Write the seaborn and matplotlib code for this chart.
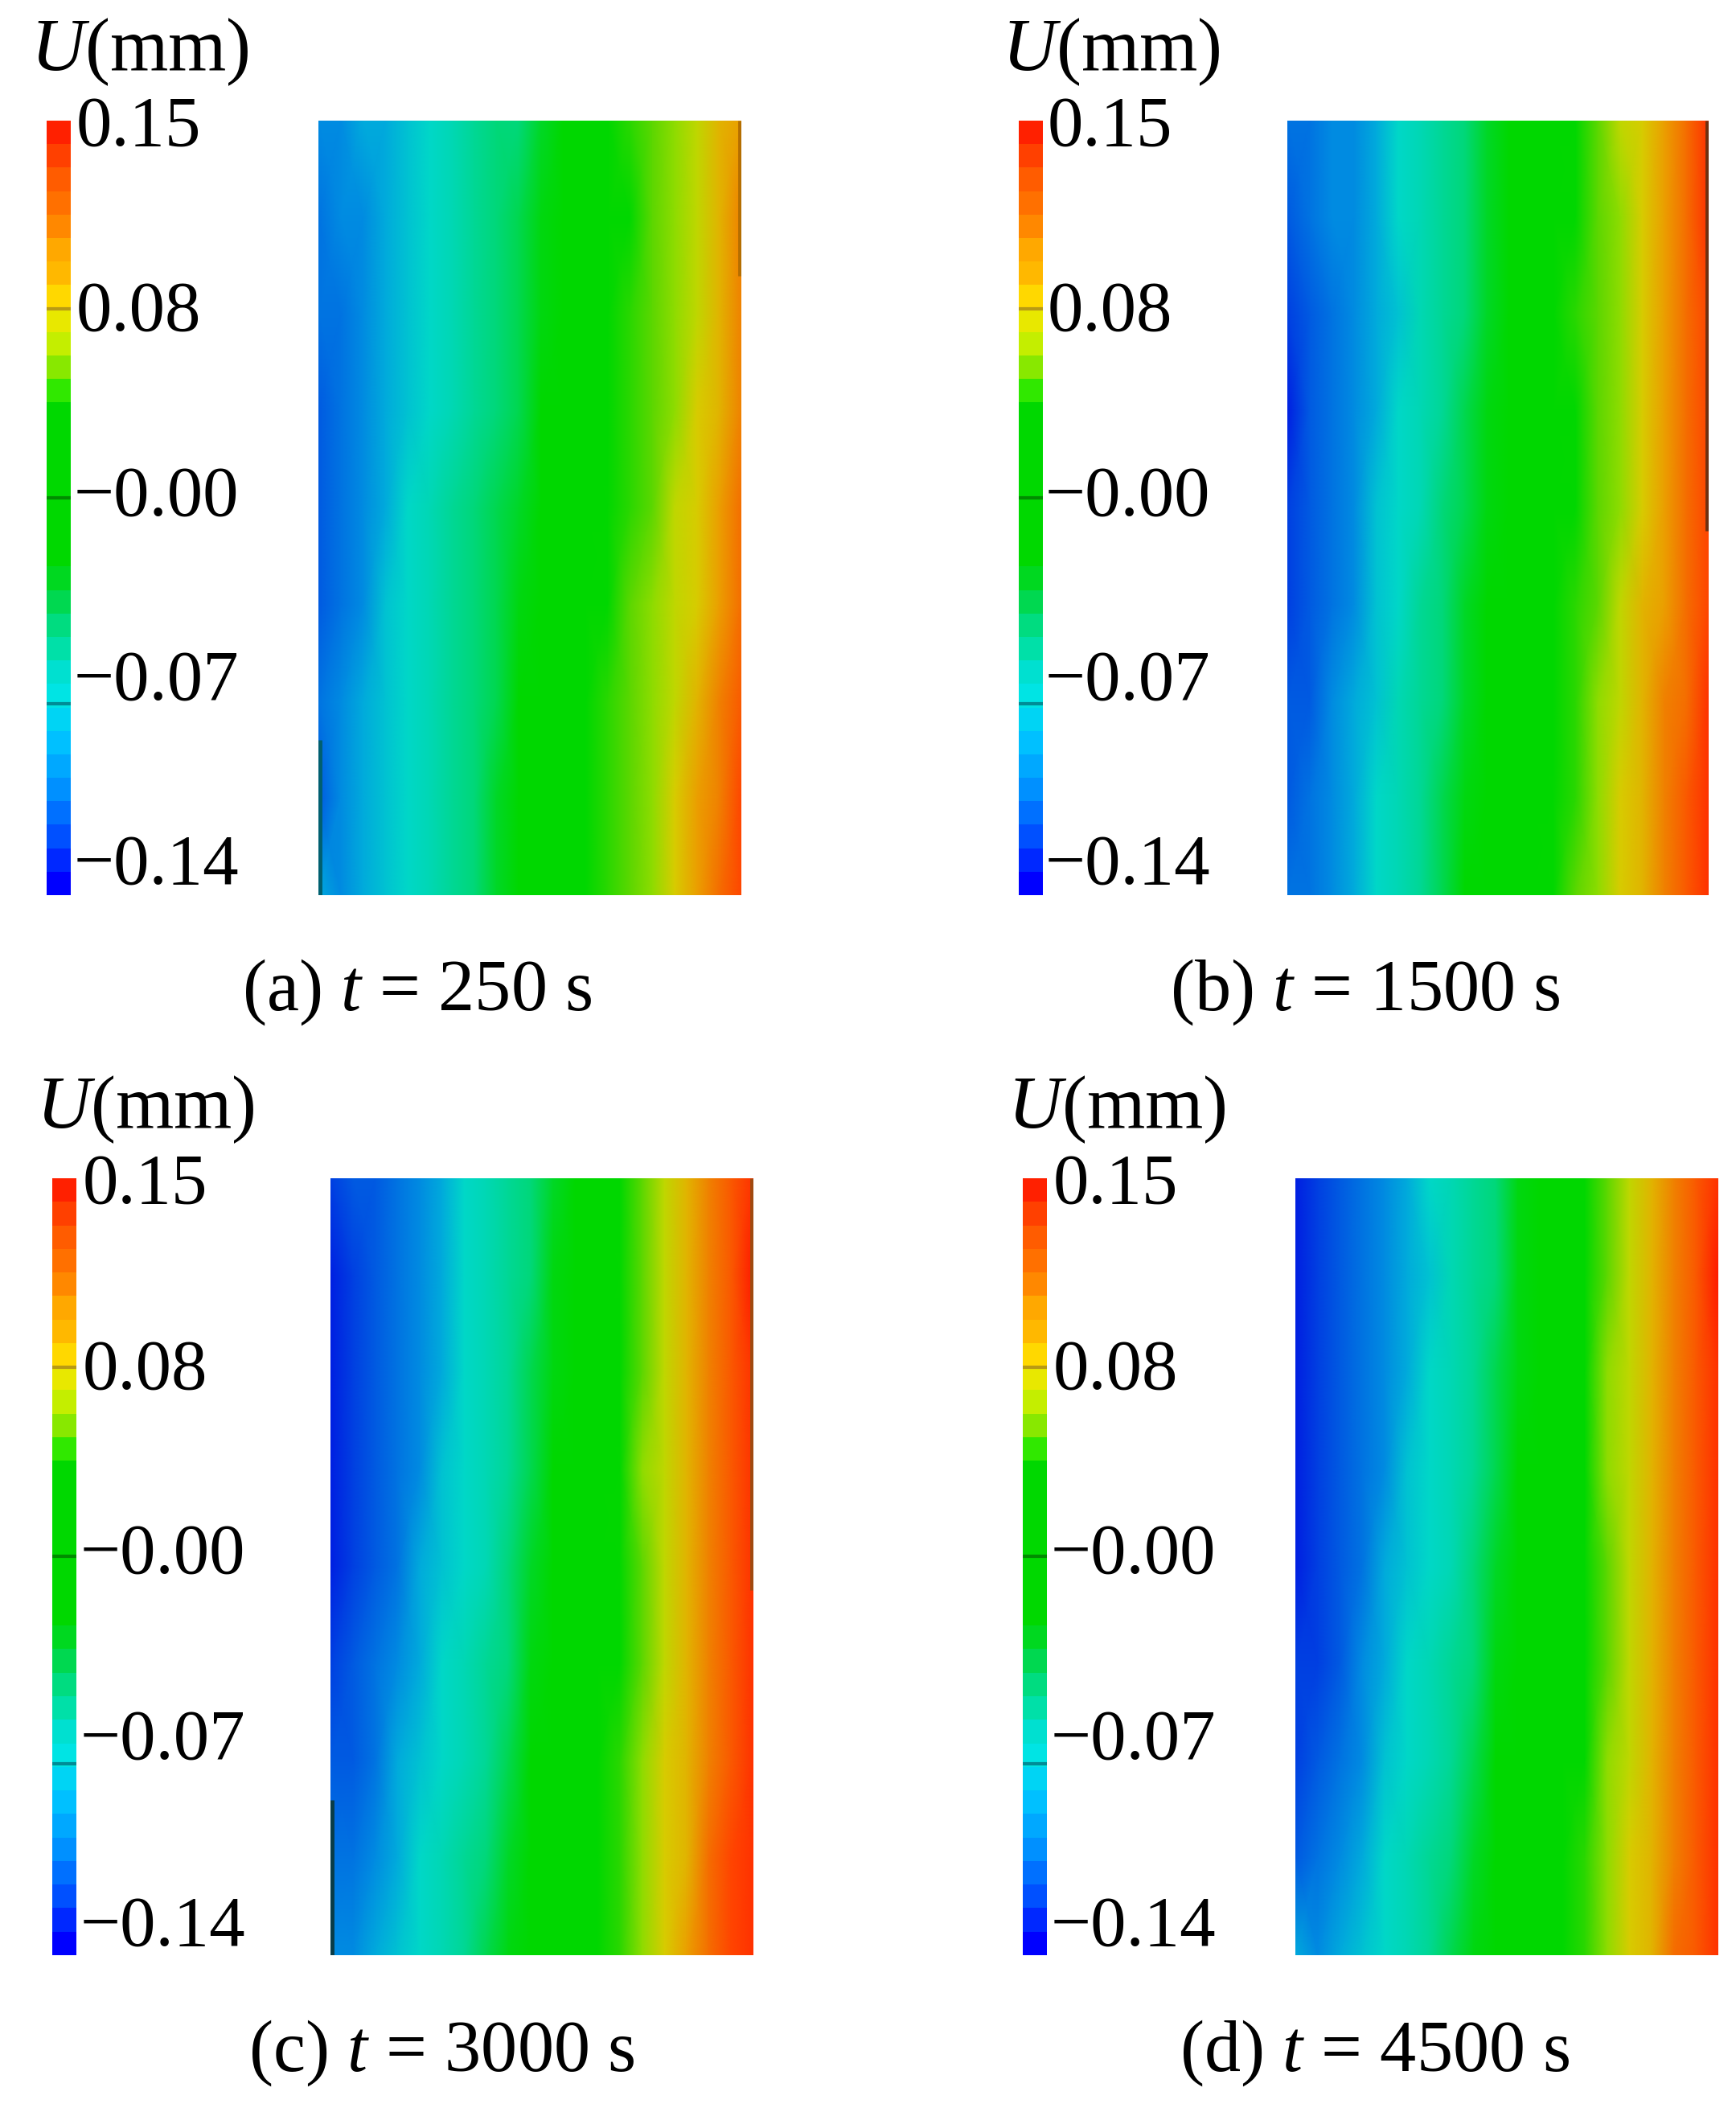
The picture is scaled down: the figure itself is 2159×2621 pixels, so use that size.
import numpy as np
import seaborn as sns
import matplotlib.pyplot as plt
from matplotlib.colors import ListedColormap, LinearSegmentedColormap

W, H = 2159, 2621

# colour bar bands, top (0.15) to bottom (-0.15)
level_colors = ['#ff2000', '#ff4000', '#ff5c00', '#ff7000', '#ff8800', '#ffa800', '#ffb800', '#ffd800',
                '#e8e800', '#c4ee00', '#88e800', '#30e800', '#00d800', '#00d800', '#00d800', '#00d800',
                '#00d800', '#00d800', '#00d800', '#00d820', '#00d850', '#00dc80', '#00e0a8', '#00e0d0',
                '#00e4e4', '#00d4f4', '#00c0ff', '#00a8ff', '#0090ff', '#0070ff', '#0050ff', '#0028ff', '#0000ff']
bar_levels = [0.145, 0.136, 0.127, 0.118, 0.109, 0.100, 0.091, 0.082, 0.073, 0.064, 0.055,
              0.045, 0.036, 0.027, 0.018, 0.009, 0.000, -0.009, -0.018, -0.027, -0.036, -0.045,
              -0.055, -0.064, -0.073, -0.082, -0.091, -0.100, -0.109, -0.118, -0.127, -0.136, -0.145]
tick_labels = ['0.15', '0.08', '\u22120.00', '\u22120.07', '\u22120.14']
tick_values = [0.077, 0.004, -0.076]
tick_colors = ['#b89a14', '#008c00', '#008c96']

# the plate picture is slightly duller than the bar: one colour per 0.01 mm from -0.15 to 0.15
field_colors = ['#0000ff', '#0020e0', '#0041e1', '#005ae1', '#0073e1', '#008ce1', '#00aadc', '#00c3d2', '#00d7c8',
                '#00d7b4', '#00d796', '#00d778', '#00d750', '#00d728', '#00d70f', '#00d700', '#00d700', '#00d700',
                '#28d700', '#5ad700', '#8cdc00', '#bed700', '#d7cd00', '#e1b400', '#eba000', '#f08200', '#f56e00',
                '#fa5a00', '#ff4600', '#ff3200', '#ff1900']

# displacement U read along the plate, in 0.01 mm, top row first
field_a = [
    [-10, -10, -9, -9, -8, -7, -6, -5, -4, -4, -2, 0, 0, 0, 3, 4, 5, 6, 8, 9],
    [-11, -10, -10, -9, -8, -7, -6, -5, -4, -3, -1, 0, 0, 0, 2, 4, 5, 6, 8, 10],
    [-11, -11, -10, -9, -8, -7, -6, -5, -4, -3, -1, 0, 0, 0, 3, 4, 5, 6, 8, 10],
    [-12, -11, -10, -9, -8, -7, -6, -5, -4, -3, 0, 0, 0, 1, 3, 4, 5, 7, 8, 10],
    [-12, -11, -10, -9, -7, -6, -5, -4, -3, -2, 0, 0, 0, 2, 3, 4, 6, 7, 9, 11],
    [-12, -11, -10, -8, -7, -6, -5, -4, -3, -1, 0, 0, 0, 2, 4, 5, 6, 7, 9, 11],
    [-11, -10, -9, -8, -7, -6, -5, -4, -3, 0, 0, 0, 1, 3, 4, 5, 6, 8, 10, 12],
    [-12, -10, -9, -8, -7, -6, -5, -4, -2, 0, 0, 0, 0, 3, 4, 5, 7, 9, 10, 13],
    [-9, -10, -9, -8, -7, -6, -5, -4, -2, 0, 0, 0, 0, 3, 4, 5, 7, 9, 11, 13],
]
field_b = [
    [-11, -11, -10, -10, -9, -7, -6, -5, -4, -2, 0, 0, 0, 2, 4, 6, 7, 9, 11, 14],
    [-12, -11, -10, -10, -9, -7, -6, -5, -4, -2, 0, 0, 0, 2, 4, 5, 7, 9, 11, 14],
    [-13, -12, -11, -10, -9, -8, -6, -5, -4, -2, 0, 0, 0, 3, 4, 5, 7, 9, 11, 13],
    [-14, -12, -11, -10, -9, -7, -6, -5, -3, -1, 0, 0, 0, 2, 4, 5, 7, 9, 11, 13],
    [-13, -12, -11, -10, -8, -7, -6, -4, -3, -1, 0, 0, 0, 2, 4, 5, 7, 9, 11, 13],
    [-13, -12, -11, -10, -8, -7, -5, -4, -2, 0, 0, 0, 0, 3, 4, 6, 8, 9, 11, 13],
    [-12, -12, -10, -9, -8, -6, -5, -4, -2, 0, 0, 0, 1, 3, 5, 6, 8, 10, 11, 14],
    [-12, -11, -10, -9, -7, -6, -5, -3, -1, 0, 0, 0, 2, 3, 5, 7, 8, 10, 12, 14],
    [-11, -11, -10, -9, -7, -6, -5, -3, 0, 0, 0, 0, 2, 4, 5, 7, 8, 10, 12, 14],
]
field_c = [
    [-13, -12, -12, -11, -10, -9, -7, -6, -5, -4, -2, 0, 0, 1, 4, 6, 8, 10, 12, 14],
    [-14, -13, -12, -11, -10, -9, -7, -6, -5, -4, -1, 0, 0, 2, 4, 6, 8, 10, 12, 15],
    [-14, -13, -12, -11, -10, -9, -7, -6, -5, -3, -1, 0, 0, 1, 4, 6, 8, 10, 12, 14],
    [-14, -13, -12, -11, -10, -8, -7, -6, -5, -3, 0, 0, 0, 2, 5, 6, 8, 10, 12, 14],
    [-14, -13, -12, -11, -9, -8, -7, -6, -4, -2, 0, 0, 0, 2, 4, 6, 8, 10, 12, 14],
    [-13, -12, -11, -10, -9, -7, -6, -5, -4, -1, 0, 0, 0, 1, 4, 6, 8, 10, 12, 14],
    [-12, -12, -11, -9, -8, -7, -6, -5, -3, 0, 0, 0, 0, 3, 5, 7, 8, 10, 12, 14],
    [-11, -11, -10, -9, -7, -6, -5, -4, -2, 0, 0, 0, 1, 3, 5, 7, 8, 11, 13, 14],
    [-10, -10, -9, -8, -7, -6, -5, -3, -1, 0, 0, 0, 1, 3, 5, 7, 9, 11, 13, 14],
]
field_d = [
    [-14, -13, -12, -11, -10, -9, -7, -6, -5, -4, -1, 0, 0, 2, 4, 6, 8, 10, 12, 14],
    [-14, -13, -12, -11, -10, -9, -8, -6, -5, -4, -1, 0, 0, 1, 4, 6, 8, 10, 12, 15],
    [-14, -13, -12, -11, -10, -9, -7, -6, -5, -3, -1, 0, 0, 2, 5, 6, 8, 10, 12, 14],
    [-14, -13, -12, -11, -10, -8, -7, -6, -5, -3, 0, 0, 0, 1, 5, 6, 8, 10, 12, 14],
    [-14, -13, -12, -11, -9, -8, -7, -6, -4, -2, 0, 0, 0, 2, 4, 6, 8, 10, 12, 14],
    [-13, -13, -12, -10, -9, -7, -6, -5, -4, -1, 0, 0, 0, 1, 4, 6, 8, 10, 12, 14],
    [-13, -12, -11, -10, -8, -7, -6, -5, -3, 0, 0, 0, 0, 2, 5, 6, 8, 10, 12, 14],
    [-12, -11, -10, -9, -7, -6, -5, -4, -2, 0, 0, 0, 1, 3, 5, 7, 8, 10, 12, 14],
    [-9, -10, -9, -8, -7, -6, -5, -3, -1, 0, 0, 0, 1, 3, 5, 7, 8, 11, 12, 14],
]
captions = ['(a) $t$ = 250 s', '(b) $t$ = 1500 s', '(c) $t$ = 3000 s', '(d) $t$ = 4500 s']

plt.rcParams['font.family'] = ['Liberation Serif', 'DejaVu Serif']
plt.rcParams['mathtext.fontset'] = 'custom'
plt.rcParams['mathtext.rm'] = 'Liberation Serif'
plt.rcParams['mathtext.it'] = 'Liberation Serif:italic'

bar_cmap = ListedColormap(level_colors[::-1])
field_cmap = LinearSegmentedColormap.from_list('u_field', field_colors, N=600)

fig = plt.figure(figsize=(W / 100, H / 100), dpi=100)


def px_axes(x0, y0, x1, y1):
    return fig.add_axes([x0 / W, 1 - y1 / H, (x1 - x0) / W, (y1 - y0) / H])


def put(x, y, s, size=64, **kw):
    fig.text(x / W, 1 - y / H, s, fontsize=size, va='center_baseline', **kw)


def draw_panel(field, caption, bar_x, field_x, y0, y1, label_x, unit_x, cap_x, label_ys, unit_y, cap_y, strips):
    ax = px_axes(field_x[0], y0, field_x[1], y1)
    data = np.array(field) / 100
    sns.heatmap(data, ax=ax, cmap=field_cmap, vmin=-0.15, vmax=0.15, cbar=False,
                xticklabels=False, yticklabels=False, shading='gouraud')
    ax.set_xlim(0, data.shape[1] - 1)
    ax.set_ylim(data.shape[0] - 1, 0)
    # dark smears along the plate edges
    for x, ymin, ymax, color in strips:
        ax.axvline(x, ymin=ymin, ymax=ymax, color=color, lw=3.5, solid_capstyle='butt')

    cax = px_axes(bar_x[0], y0, bar_x[1], y1)
    sns.heatmap(np.array(bar_levels).reshape(-1, 1), ax=cax, cmap=bar_cmap, vmin=-0.15, vmax=0.15,
                cbar=False, xticklabels=False, yticklabels=False)
    rows = [(0.15 - v) / 0.30 * len(bar_levels) for v in tick_values]
    cax.hlines(rows, 0, 1, colors=tick_colors, lw=3)

    for y, s in zip(label_ys, tick_labels):
        lx = label_x - 3 if s.startswith('\u2212') else label_x
        put(lx, y, s, ha='left')
    put(unit_x, unit_y, '$U$(mm)', size=67, ha='left')
    put(cap_x, cap_y, caption, size=65, ha='center')


top_labels = [150, 380, 610, 839, 1068]
low_labels = [1465, 1696, 1925, 2156, 2388]
draw_panel(field_a, captions[0], (58, 88), (396, 922), 150, 1113, 95, 38, 519, top_labels, 54, 1223,
           [(0.06, 0.0, 0.2, '#005f6e'), (18.94, 0.8, 1.0, '#b46e00')])
draw_panel(field_b, captions[1], (1267, 1297), (1601, 2125), 150, 1113, 1303, 1246, 1698, top_labels, 54, 1223,
           [(18.94, 0.47, 1.0, '#6e3010')])
draw_panel(field_c, captions[2], (65, 95), (411, 937), 1465, 2431, 103, 45, 549, low_labels, 1369, 2542,
           [(0.06, 0.0, 0.2, '#0a3c46'), (18.94, 0.47, 1.0, '#a04a10')])
draw_panel(field_d, captions[3], (1272, 1302), (1611, 2137), 1465, 2431, 1310, 1253, 1710, low_labels, 1369, 2542, [])

fig.savefig('out.png', dpi=100, facecolor='white')
